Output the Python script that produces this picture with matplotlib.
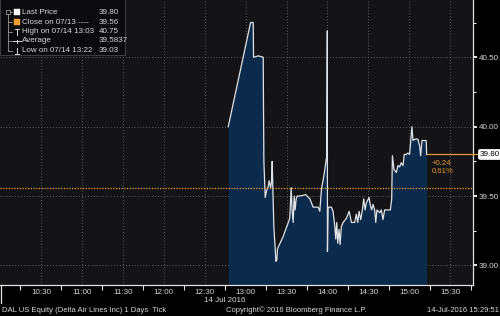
import matplotlib
matplotlib.use("Agg")
import matplotlib.pyplot as plt
from matplotlib.ticker import FixedLocator, NullFormatter, FuncFormatter
from matplotlib.patches import Rectangle, FancyBboxPatch
import numpy as np

plt.rcParams['font.family'] = ['Liberation Sans', 'DejaVu Sans']

# ---------------- data ----------------
times = ["12:47:18", "13:03:40", "13:05:36", "13:05:51", "13:09:18", "13:12:54",
         "13:13:24", "13:14:24", "13:15:24", "13:16:36", "13:17:18", "13:18:18",
         "13:19:00", "13:19:30", "13:20:00", "13:20:42", "13:21:42", "13:22:12",
         "13:22:54", "13:23:24", "13:27:36", "13:32:24", "13:33:24", "13:34:06",
         "13:34:54", "13:35:36", "13:36:18", "13:37:06", "13:37:48", "13:39:48",
         "13:44:06", "13:47:06", "13:49:30", "13:53:12", "13:54:24", "13:55:36",
         "13:57:18", "13:59:30", "13:59:54", "14:00:00", "14:00:30", "14:02:54",
         "14:04:06", "14:05:24", "14:06:06", "14:06:48", "14:07:36", "14:08:30",
         "14:09:18", "14:10:12", "14:11:30", "14:13:54", "14:15:54", "14:17:36",
         "14:20:00", "14:21:12", "14:22:12", "14:23:12", "14:24:24", "14:25:36",
         "14:26:36", "14:27:36", "14:28:30", "14:30:30", "14:31:30", "14:32:24",
         "14:33:24", "14:34:36", "14:35:24", "14:36:18", "14:38:18", "14:39:30",
         "14:40:42", "14:41:54", "14:46:06", "14:47:06", "14:47:36", "14:48:48",
         "14:50:30", "14:51:42", "14:52:54", "14:54:06", "14:55:24", "14:56:18",
         "14:57:48", "14:59:00", "15:00:12", "15:00:54", "15:01:54", "15:02:42",
         "15:03:54", "15:06:18", "15:07:36", "15:08:18", "15:09:18", "15:12:24",
         "15:12:42"]
prices = [40.00, 40.75, 40.75, 40.50, 40.51, 40.50,
          39.75, 39.49, 39.54, 39.57, 39.61, 39.56,
          39.60, 39.75, 39.55, 39.28, 39.12, 39.03,
          39.04, 39.12, 39.21, 39.34, 39.56, 39.40,
          39.31, 39.50, 39.40, 39.48, 39.50, 39.50,
          39.51, 39.48, 39.42, 39.42, 39.39, 39.55,
          39.64, 39.79, 40.69, 39.10, 39.42, 39.42,
          39.39, 39.28, 39.19, 39.31, 39.16, 39.26,
          39.15, 39.28, 39.31, 39.34, 39.39, 39.31,
          39.31, 39.37, 39.31, 39.39, 39.33, 39.40,
          39.48, 39.40, 39.45, 39.49, 39.43, 39.40,
          39.44, 39.40, 39.31, 39.40, 39.38, 39.40,
          39.33, 39.40, 39.40, 39.48, 39.79, 39.69,
          39.67, 39.72, 39.71, 39.74, 39.72, 39.80,
          39.80, 39.81, 39.80, 39.88, 40.00, 39.90,
          39.91, 39.91, 39.86, 39.79, 39.90, 39.90,
          39.80]

last_price = 39.80
prev_close = 39.56
high_price = 40.75
low_price = 39.03
average = 39.5837
change = "+0.24"
change_pct = "0.61%"

x_tick_labels = ["10:30", "11:00", "11:30", "12:00", "12:30", "13:00",
                 "13:30", "14:00", "14:30", "15:00", "15:30"]
y_tick_values = [39.00, 39.50, 40.00, 40.50]
y_minor_values = [39.25, 39.75, 40.25, 40.75]

legend_labels = ["Last Price", "Close on 07/13 ----", "High on 07/14 13:03",
                 "Average", "Low on 07/14 13:22"]
legend_values = ["39.80", "39.56", "40.75", "39.5837", "39.03"]

date_label = "14 Jul 2016"
footer_left = "DAL US Equity (Delta Air Lines Inc) 1 Days  Tick"
footer_mid = "Copyright\u00a9 2016 Bloomberg Finance L.P."
footer_right = "14-Jul-2016 15:29:51"


def to_hours(s):
    parts = [int(p) for p in s.split(":")]
    while len(parts) < 3:
        parts.append(0)
    return parts[0] + parts[1] / 60 + parts[2] / 3600


t = np.array([to_hours(s) for s in times])
p = np.array(prices)
xt = [to_hours(s) for s in x_tick_labels]

# ---------------- figure ----------------
W, H = 500, 316
fig = plt.figure(figsize=(5, 3.16), dpi=100, facecolor="black")
ax = fig.add_axes([0, (H - 285.3) / H, 473 / W, 285.3 / H])
ax.set_facecolor("#141417")

YMIN, YMAX = 38.857, 40.9125
XMIN, XMAX = 10.0, 15.778
ax.set_xlim(XMIN, XMAX)
ax.set_ylim(YMIN, YMAX)

# grid
for x in xt:
    ax.axvline(x, color="#5a5a5e", lw=0.7, ls=(0, (1, 2)), zorder=1)
for y in y_tick_values:
    ax.axhline(y, color="#5a5a5e", lw=0.7, ls=(0, (1, 2)), zorder=1)

# area + line
ax.fill_between(t, p, YMIN, color="#0c2a4b", lw=0, zorder=2)
ax.plot(t, p, color="#dfe3e8", lw=0.9, zorder=3)

# previous close dotted line
ax.axhline(prev_close, color="#f0a030", lw=0.9, ls=(0, (1, 1.2)), zorder=4)
# last price line
ax.plot([t[-1], XMAX], [last_price, last_price], color="#e09a30", lw=0.9, zorder=4)
ax.text(t[-1] + 0.06, last_price - 0.04, change + "\n" + change_pct,
        color="#e39a2e", fontsize=5.6, va="top", ha="left", linespacing=1.25, zorder=5)

# spines
for s in ["top", "left"]:
    ax.spines[s].set_visible(False)
ax.spines["right"].set_color("#e0e0e0")
ax.spines["bottom"].set_color("#e0e0e0")
ax.spines["right"].set_linewidth(0.9)
ax.spines["bottom"].set_linewidth(0.9)

# x ticks
ax.xaxis.set_major_locator(FixedLocator(xt))
ax.set_xticklabels(x_tick_labels)
minor_x = [h + m / 60 for h in range(10, 16) for m in (15, 45)]
ax.xaxis.set_minor_locator(FixedLocator(minor_x))
ax.tick_params(axis="x", which="major", length=0, pad=3, labelsize=5.8,
               labelcolor="#d8d8d8")
ax.tick_params(axis="x", which="minor", length=3.5, width=0.8, color="#e0e0e0",
               direction="out")

# y ticks on right
ax.yaxis.tick_right()
ax.yaxis.set_major_locator(FixedLocator(y_tick_values))
ax.yaxis.set_major_formatter(FuncFormatter(lambda v, pos: f"{v:.2f}"))
ax.yaxis.set_minor_locator(FixedLocator(y_minor_values))
ax.yaxis.set_minor_formatter(NullFormatter())
ax.tick_params(axis="y", which="major", length=3, width=1.4, color="#e8e8e8",
               direction="out", pad=1.2, labelsize=5.8, labelcolor="#d8d8d8")
ax.tick_params(axis="y", which="minor", length=2, width=0.8, color="#e8e8e8",
               direction="out")

# last price tag
ax.annotate(f"{last_price:.2f}", xy=(1.0, last_price),
            xycoords=("axes fraction", "data"),
            xytext=(5, 0), textcoords="offset points", fontsize=5.8,
            color="black", va="center", ha="left",
            bbox=dict(boxstyle="round,pad=0.2,rounding_size=0.3", fc="white",
                      ec="white", lw=0.5), annotation_clip=False, zorder=6)
ax.plot([1.0, 1.012], [last_price, last_price], color="#e09a30", lw=0.9,
        transform=ax.get_yaxis_transform(), clip_on=False, zorder=5)

# date label
ax.text(12.75, YMIN, date_label, transform=ax.transData, fontsize=5.8,
        color="#d8d8d8", ha="center", va="top")
ax.texts[-1].set_position((12.75, YMIN))
ax.texts[-1].set_transform(
    matplotlib.transforms.offset_copy(ax.transData, fig=fig, x=0, y=-11.5, units="dots"))

# ---------------- overlay (pixel coordinates) ----------------
ov = fig.add_axes([0, 0, 1, 1], facecolor="none")
ov.set_xlim(0, W)
ov.set_ylim(H, 0)
ov.axis("off")

# left separator below axis
ov.plot([0.8, 0.8], [285, 303], color="#e0e0e0", lw=0.9)

# legend box
ov.add_patch(Rectangle((0, -1), 125, 56, fc="#0b0b0d", ec="#3c3c40", lw=0.8, zorder=2))
rows = [12, 22, 31.5, 41, 51]
for y, lab, val in zip(rows, legend_labels, legend_values):
    ov.text(22, y, lab, color="#d8d8d8", fontsize=5.8, va="center", ha="left", zorder=3)
    ov.text(99, y, val, color="#d8d8d8", fontsize=5.8, va="center", ha="left", zorder=3)
    ov.plot([8, 12], [y, y], color="#9a9a9a", lw=0.6, zorder=3)
ov.plot([8, 8], [rows[0], rows[-1]], color="#9a9a9a", lw=0.6, zorder=3)
ov.add_patch(Rectangle((6, 10), 4, 4, fc="#0b0b0d", ec="#9a9a9a", lw=0.6, zorder=4))
ov.add_patch(Rectangle((13.5, rows[0] - 3.2), 6, 6.4, fc="white", ec="white", lw=0.3, zorder=4))
ov.add_patch(Rectangle((13.5, rows[1] - 3.2), 6, 6.4, fc="#f0a030", ec="#f0a030", lw=0.3, zorder=4))
ov.plot([14.5, 18.5], [rows[2] - 3, rows[2] - 3], color="#d8d8d8", lw=0.7, zorder=4)
ov.plot([16.5, 16.5], [rows[2] - 3, rows[2] + 3.5], color="#d8d8d8", lw=0.7, zorder=4)
ov.plot([12.5, 20.5], [rows[3], rows[3]], color="#d8d8d8", lw=0.7, zorder=4)
ov.plot([16.5, 16.5], [rows[3] - 1.5, rows[3] + 1.5], color="#d8d8d8", lw=0.7, zorder=4)
ov.plot([16.5, 16.5], [rows[4] - 3.5, rows[4] + 3], color="#d8d8d8", lw=0.7, zorder=4)
ov.plot([14.5, 18.5], [rows[4] + 3, rows[4] + 3], color="#d8d8d8", lw=0.7, zorder=4)

# footer
ov.text(2, 310.5, footer_left, color="#d8d8d8", fontsize=5.5, va="center", ha="left")
ov.text(226, 310.5, footer_mid, color="#d8d8d8", fontsize=5.5, va="center", ha="left")
ov.text(499, 310.5, footer_right, color="#d8d8d8", fontsize=5.5, va="center", ha="right")

fig.savefig("out.png", dpi=100, facecolor="black")
